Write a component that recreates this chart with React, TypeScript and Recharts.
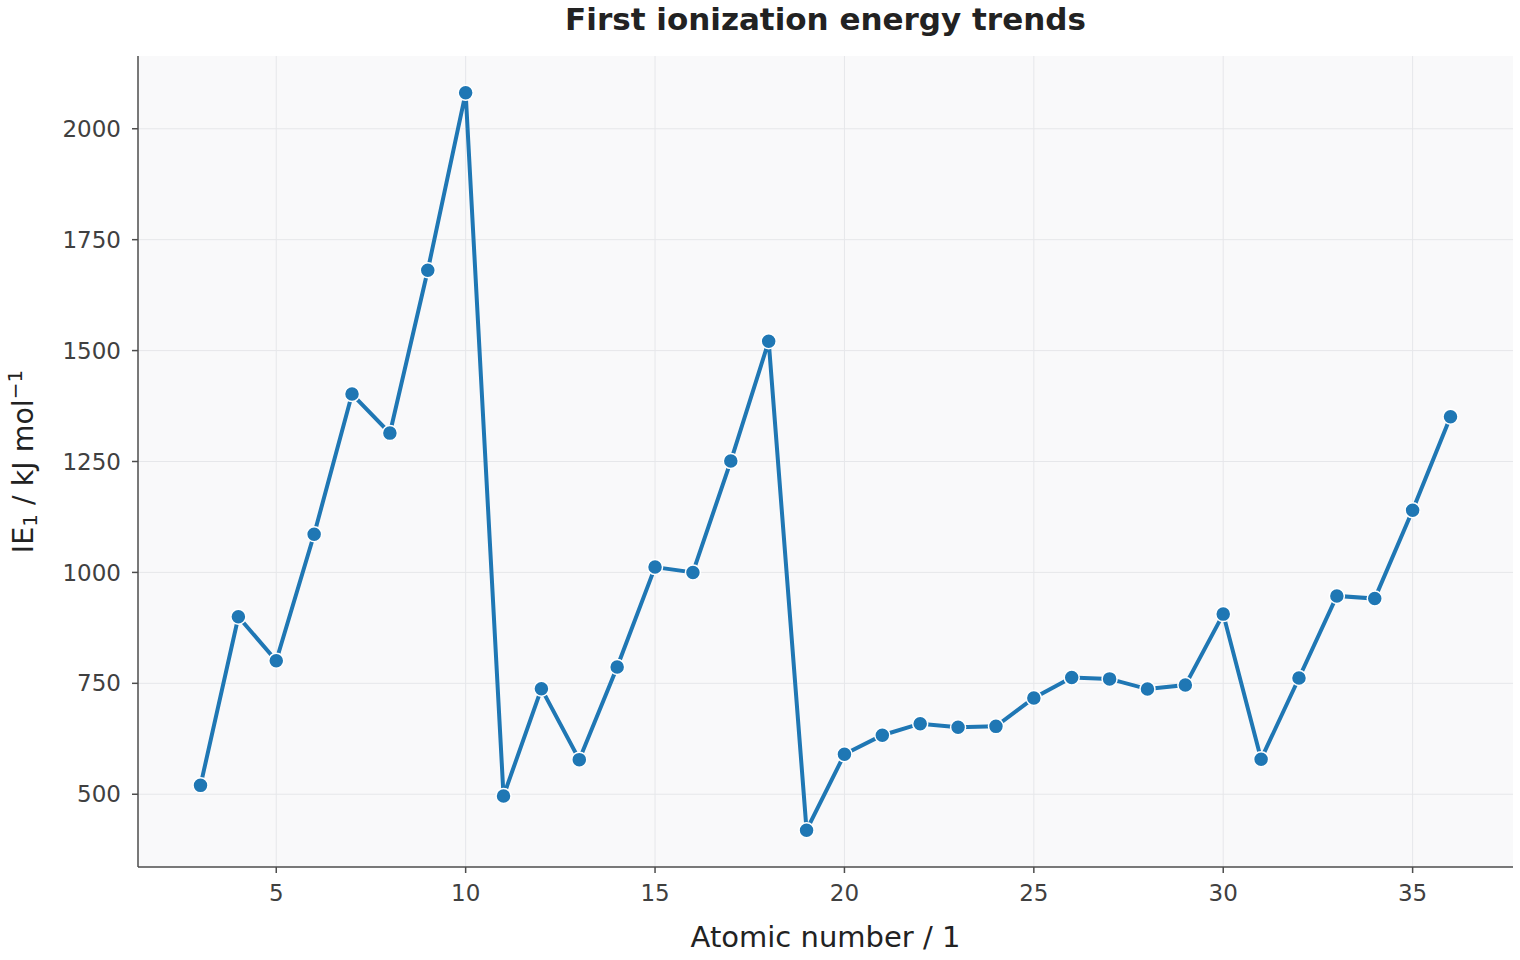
import React from 'react';
import { LineChart, Line, XAxis, YAxis, CartesianGrid, Label } from 'recharts';

// first ionization energies, Li (3) .. Kr (36), kJ/mol
const atomicNumbers = [
  3, 4, 5, 6, 7, 8, 9, 10, 11, 12, 13, 14, 15, 16, 17, 18, 19, 20, 21, 22, 23, 24, 25, 26, 27, 28,
  29, 30, 31, 32, 33, 34, 35, 36,
];
const ionizationEnergies = [
  520, 900, 801, 1086, 1402, 1314, 1681, 2081, 496, 738, 578, 787, 1012, 1000, 1251, 1521, 419, 590,
  633, 659, 651, 653, 717, 763, 760, 737, 746, 906, 579, 762, 947, 941, 1140, 1351,
];
const xTicks = [5, 10, 15, 20, 25, 30, 35];
const yTicks = [500, 750, 1000, 1250, 1500, 1750, 2000];

const data = atomicNumbers.map((z, i) => ({ z, ie: ionizationEnergies[i] }));

const FONT = '"DejaVu Sans", sans-serif';
const AXIS = '#4d4d4d';
const TICK_TEXT = '#404040';

export default function App() {
  return (
    <div style={{ position: 'absolute', left: 0, top: 0, width: 1520, height: 960, background: '#fff', fontFamily: FONT }}>
      <div
        style={{
          position: 'absolute',
          top: 4,
          left: 138,
          width: 1375,
          textAlign: 'center',
          fontSize: 31,
          lineHeight: '31px',
          fontWeight: 'bold',
          color: '#222',
        }}
      >
        First ionization energy trends
      </div>
      <LineChart width={1520} height={960} data={data} margin={{ top: 56, right: 7, bottom: 0, left: 0 }}>
        <CartesianGrid fill="#f9f9fa" stroke="#e6e7ea" strokeWidth={1} horizontalValues={yTicks} verticalValues={xTicks} />
        <XAxis
          dataKey="z"
          type="number"
          domain={[1.35, 37.65]}
          ticks={xTicks}
          height={93}
          axisLine={{ stroke: AXIS, strokeWidth: 1.5 }}
          tickLine={{ stroke: AXIS, strokeWidth: 1.5 }}
          tickSize={6}
          tick={{ fill: TICK_TEXT, fontSize: 23, fontFamily: FONT }}
          tickMargin={12}
        >
          <Label
            value="Atomic number / 1"
            position="insideBottom"
            offset={13}
            style={{ fill: '#222', fontSize: 29, fontFamily: FONT }}
          />
        </XAxis>
        <YAxis
          type="number"
          domain={[336, 2164]}
          ticks={yTicks}
          width={138}
          axisLine={{ stroke: AXIS, strokeWidth: 1.5 }}
          tickLine={{ stroke: AXIS, strokeWidth: 1.5 }}
          tickSize={6}
          tick={{ fill: TICK_TEXT, fontSize: 23, fontFamily: FONT }}
          tickMargin={11}
        >
          <Label
            content={({ viewBox }: any) => {
              const cy = viewBox.y + viewBox.height / 2;
              const bx = 33;
              return (
                <text
                  x={bx}
                  y={cy}
                  transform={`rotate(-90, ${bx}, ${cy})`}
                  textAnchor="middle"
                  fill="#222"
                  fontSize={28.5}
                  fontFamily={FONT}
                >
                  <tspan>IE</tspan>
                  <tspan fontSize={20} dy={4}>1</tspan>
                  <tspan dy={-4}> / kJ mol</tspan>
                  <tspan fontSize={20} dy={-11}>−1</tspan>
                </text>
              );
            }}
          />
        </YAxis>
        <Line
          dataKey="ie"
          stroke="#1f77b4"
          strokeWidth={4}
          dot={{ r: 7.5, fill: '#1f77b4', stroke: '#ffffff', strokeWidth: 1.5 }}
          isAnimationActive={false}
        />
      </LineChart>
    </div>
  );
}
